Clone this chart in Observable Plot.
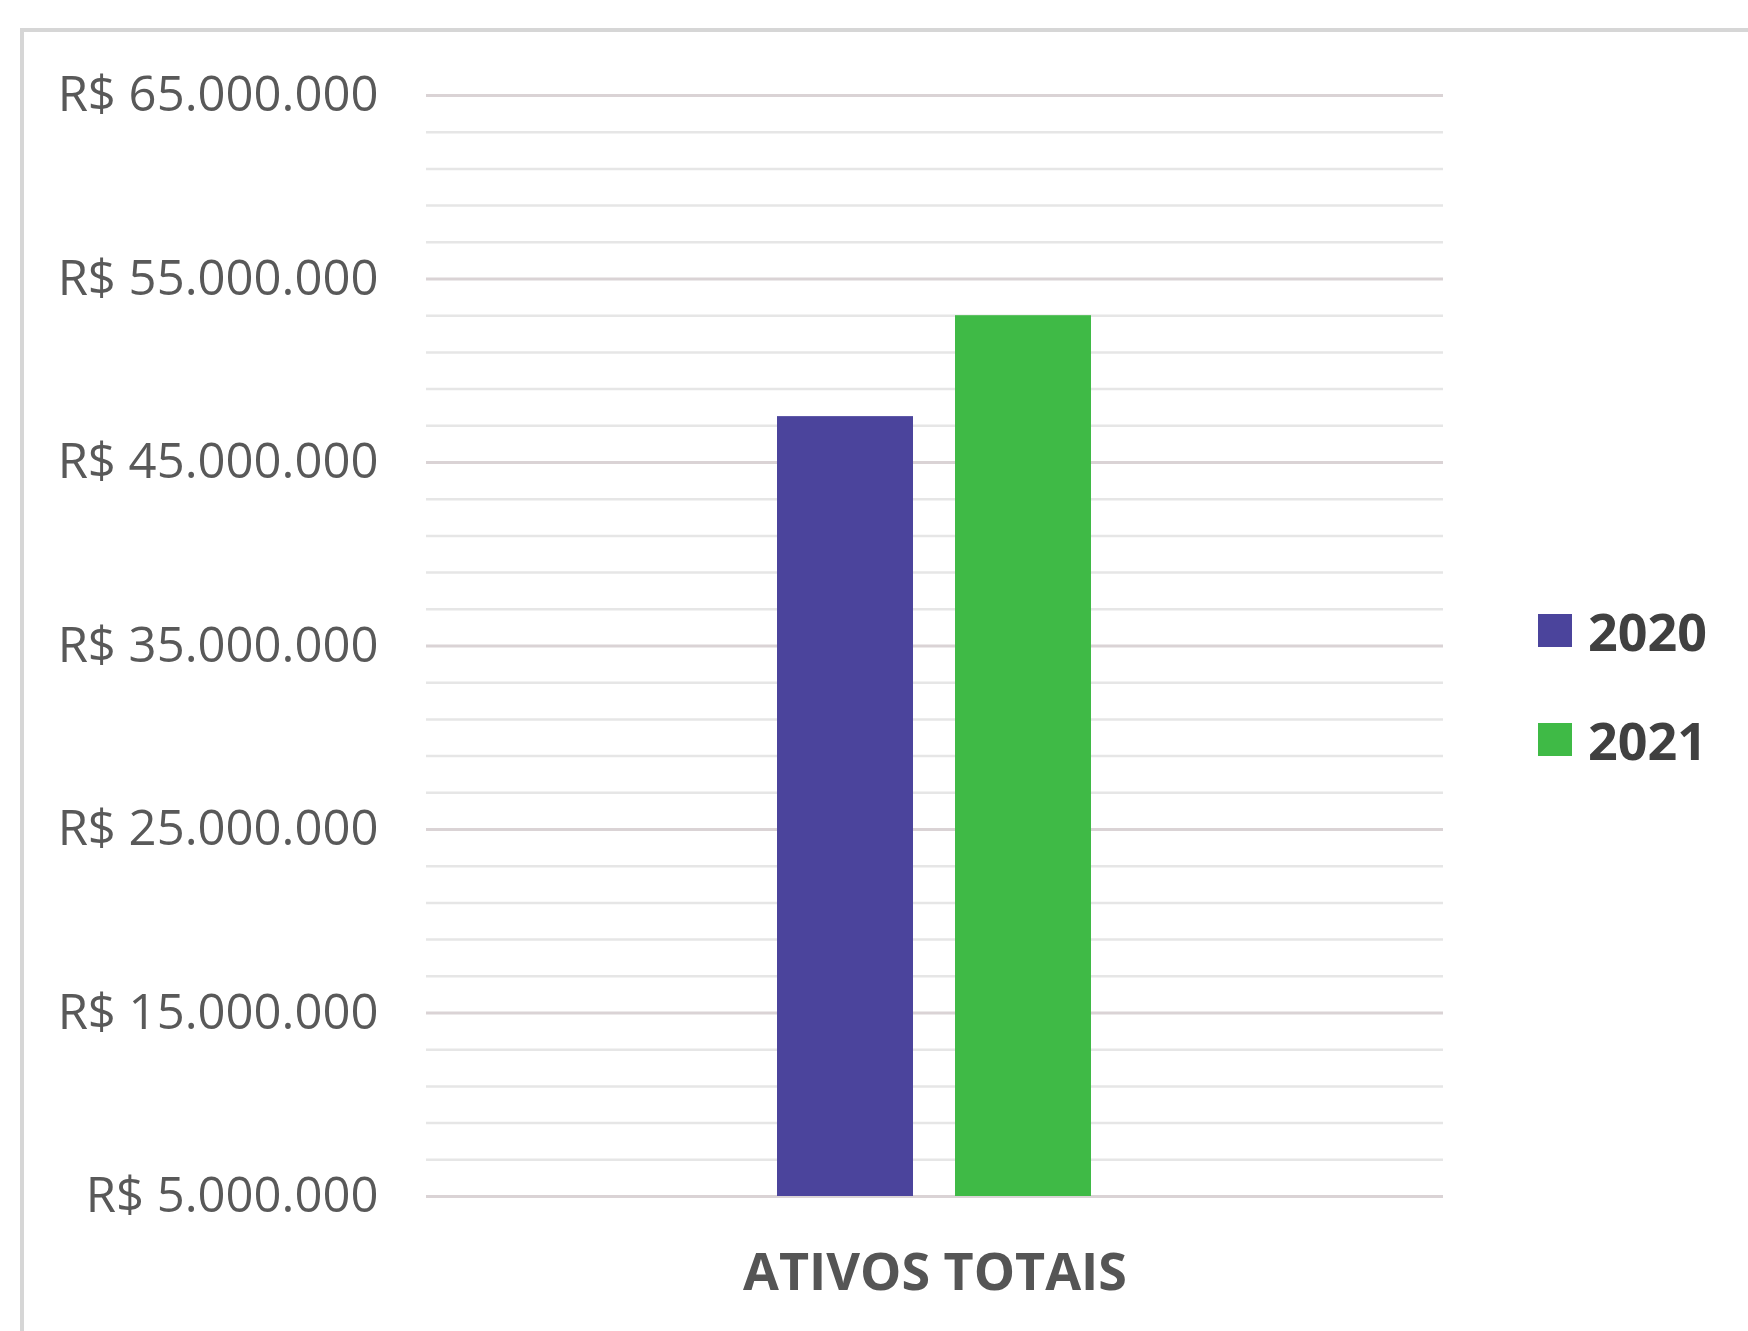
<!DOCTYPE html>
<html>
<head>
<meta charset="utf-8">
<script src="https://cdn.jsdelivr.net/npm/d3@7"></script>
<script src="https://cdn.jsdelivr.net/npm/@observablehq/plot@0.6"></script>
<style>
  html, body { margin: 0; padding: 0; background: #ffffff; }
  #wrap { position: relative; width: 1748px; height: 1331px; overflow: hidden; background: #fff; }
  #border { position: absolute; left: 20px; top: 28px; width: 1800px; height: 1400px;
            border-left: 4px solid #d6d6d6; border-top: 4px solid #d6d6d6; box-sizing: border-box; }
  #chart { position: absolute; left: 0; top: 0; }
  .leg { position: absolute; left: 1538px; height: 60px; display: flex; align-items: center;
         font-family: "Open Sans", sans-serif; font-weight: bold; font-size: 52px; color: #404040; }
  .leg .sw { width: 34px; height: 33px; margin-right: 16px; }
</style>
</head>
<body>
<div id="wrap">
  <div id="border"></div>
  <div id="chart"></div>
  <div id="legend"></div>
</div>
<script>
// ---- data ----
const categories = ["ATIVOS TOTAIS"];
const years = ["2020", "2021"];
const values2020 = [47500000];
const values2021 = [53000000];
const yTicks = [5000000, 15000000, 25000000, 35000000, 45000000, 55000000, 65000000];
const yMin = 5000000;
const yMax = 65000000;
const colors = ["#4b449c", "#3fba46"];

// ---- table ----
const data = [];
categories.forEach((c, i) => {
  data.push({category: c, year: years[0], value: values2020[i]});
  data.push({category: c, year: years[1], value: values2021[i]});
});
const minorTicks = d3.range(yMin, yMax + 1, 2000000).filter(v => !yTicks.includes(v));

const fmtNum = d3.formatLocale({decimal: ",", thousands: ".", grouping: [3], currency: ["R$ ", ""]}).format(",.0f");
const fmt = v => "R$ " + fmtNum(v);

const chart = Plot.plot({
  width: 1748,
  height: 1331,
  marginLeft: 426,
  marginRight: 305,
  marginTop: 95,
  marginBottom: 135,
  style: {fontFamily: "'Open Sans', sans-serif", background: "transparent"},
  fx: {domain: categories, paddingInner: 0, paddingOuter: 0, label: null, axis: null},
  x: {domain: years, paddingInner: 0.235, paddingOuter: 1.96, axis: null},
  y: {domain: [yMin, yMax], axis: null, label: null},
  color: {domain: years, range: colors},
  marks: [
    Plot.ruleY(minorTicks, {stroke: "#e6e6e6", strokeWidth: 2.5}),
    Plot.ruleY(yTicks, {stroke: "#dad3d5", strokeWidth: 3}),
    Plot.barY(data, {fx: "category", x: "year", y1: yMin, y2: "value", fill: "year"}),
    Plot.axisY({ticks: yTicks, tickSize: 0, tickPadding: 48, tickFormat: fmt, fontSize: 49, fill: "#595959", label: null}),
    Plot.axisFx({anchor: "bottom", tickSize: 0, tickPadding: 57, fontSize: 52, fontWeight: "bold", fill: "#555555", label: null})
  ]
});
document.getElementById("chart").appendChild(chart);

// ---- legend ----
const legend = document.getElementById("legend");
const legTops = [600, 709];
years.forEach((y, i) => {
  const item = document.createElement("div");
  item.className = "leg";
  item.style.top = legTops[i] + "px";
  const sw = document.createElement("div");
  sw.className = "sw";
  sw.style.background = colors[i];
  const t = document.createElement("span");
  t.textContent = y;
  item.appendChild(sw);
  item.appendChild(t);
  legend.appendChild(item);
});
</script>
</body>
</html>
